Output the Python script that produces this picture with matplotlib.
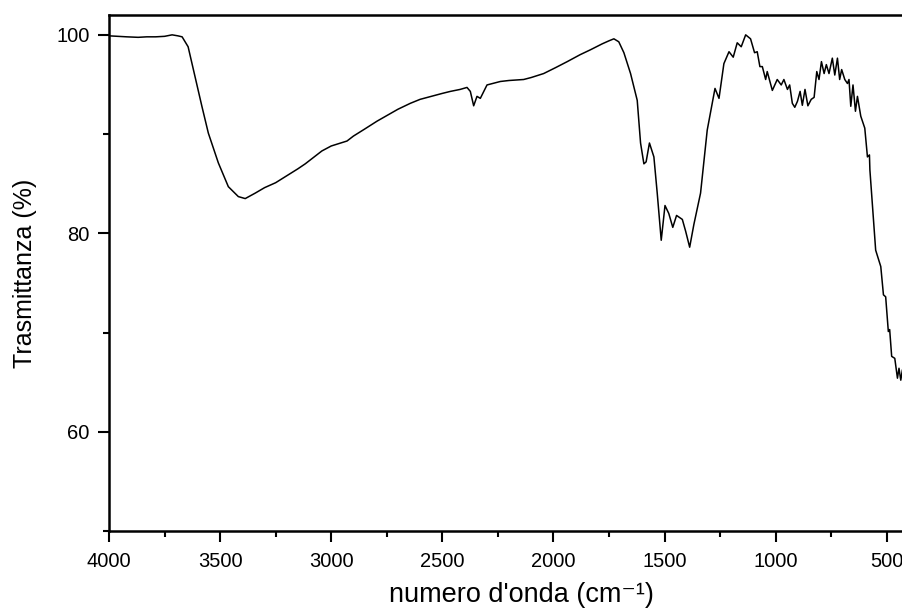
import matplotlib
matplotlib.use("Agg")
import matplotlib.pyplot as plt
from matplotlib.ticker import MultipleLocator

# FTIR spectrum
wavenumber = [4000, 3960, 3920, 3869, 3830, 3790, 3750, 3716, 3690, 3671, 3644, 3613,
              3582, 3553, 3508, 3463, 3418, 3387, 3342, 3300, 3250, 3207, 3150, 3117,
              3042, 3000, 2929, 2900, 2850, 2794, 2700, 2644, 2600, 2550, 2500, 2464,
              2420, 2389, 2374, 2359, 2344, 2329, 2299, 2239, 2200, 2134, 2100, 2044,
              1990, 1938, 1880, 1833, 1780, 1750, 1728, 1706, 1683, 1653, 1623, 1608,
              1593, 1583, 1568, 1548, 1533, 1515, 1498, 1481, 1463, 1446, 1420, 1405,
              1387, 1368, 1338, 1308, 1273, 1255, 1233, 1210, 1191, 1173, 1155, 1135,
              1113, 1095, 1083, 1071, 1060, 1045, 1038, 1015, 993, 975, 963, 947, 937,
              925, 914, 902, 890, 880, 868, 855, 840, 827, 815, 805, 794, 782, 772, 760,
              745, 734, 722, 712, 703, 689, 677, 670, 662, 652, 641, 632, 617, 599, 587,
              578, 576, 565, 550, 527, 515, 505, 493, 487, 478, 464, 452, 445, 437, 430]
transmittance = [99.9, 99.85, 99.8, 99.75, 99.8, 99.8, 99.85, 100.0, 99.9, 99.8, 98.8, 95.8,
                 92.8, 90.1, 87.1, 84.7, 83.7, 83.5, 84.05, 84.6, 85.1, 85.7, 86.5, 87.0,
                 88.3, 88.8, 89.3, 89.8, 90.5, 91.3, 92.5, 93.1, 93.5, 93.8, 94.1, 94.3,
                 94.5, 94.7, 94.3, 92.85, 93.8, 93.6, 94.95, 95.3, 95.4, 95.5, 95.7, 96.1,
                 96.7, 97.3, 98.0, 98.5, 99.1, 99.4, 99.6, 99.3, 98.2, 96.1, 93.4, 89.1,
                 87.0, 87.2, 89.1, 87.7, 84.05, 79.3, 82.8, 82.0, 80.6, 81.8, 81.4, 80.2,
                 78.6, 80.9, 84.05, 90.4, 94.6, 93.6, 97.1, 98.3, 97.75, 99.2, 98.8, 100.0,
                 99.6, 98.2, 98.3, 96.8, 96.8, 95.5, 96.3, 94.4, 95.5, 94.95, 95.5, 94.5,
                 94.95, 93.1, 92.7, 93.3, 94.3, 92.9, 94.5, 92.85, 93.5, 93.7, 96.3, 95.5,
                 97.3, 96.1, 97.0, 96.1, 97.65, 95.95, 97.65, 95.5, 96.5, 95.5, 95.1, 95.5,
                 92.8, 94.95, 92.3, 93.8, 91.8, 90.6, 87.7, 87.9, 86.4, 83.0, 78.3, 76.65,
                 73.8, 73.6, 70.1, 70.3, 67.6, 67.4, 65.4, 66.4, 65.2, 66.2]

x_ticks = [4000, 3500, 3000, 2500, 2000, 1500, 1000, 500]
y_ticks = [60, 80, 100]

plt.rcParams['font.family'] = ['Liberation Sans', 'DejaVu Sans']

fig = plt.figure(figsize=(9.02, 6.10), dpi=100)
# the original picture is cropped on the right, so the axes run past the edge
ax = fig.add_axes([109 / 902, 79 / 610, 800 / 902, 516 / 610])

ax.plot(wavenumber, transmittance, color='black', lw=1.1)

ax.set_xlim(4000, 400)
ax.set_ylim(50, 102)
ax.set_xticks(x_ticks)
ax.set_yticks(y_ticks)
ax.xaxis.set_minor_locator(MultipleLocator(250))
ax.yaxis.set_minor_locator(MultipleLocator(10))

for s in ax.spines.values():
    s.set_linewidth(1.8)
ax.tick_params(which='major', direction='out', length=8, width=1.5, labelsize=14.5)
ax.tick_params(axis='y', which='major', pad=6)
ax.tick_params(axis='x', which='major', pad=7)
ax.tick_params(which='minor', direction='out', length=4.5, width=1.5)

ax.set_ylabel('Trasmittanza (%)', fontsize=18, labelpad=14)
ax.set_xlabel("numero d'onda (cm\u207b\u00b9)", fontsize=19.5)
ax.xaxis.set_label_coords(0.516, -0.098)

fig.savefig('out.png', dpi=100)
